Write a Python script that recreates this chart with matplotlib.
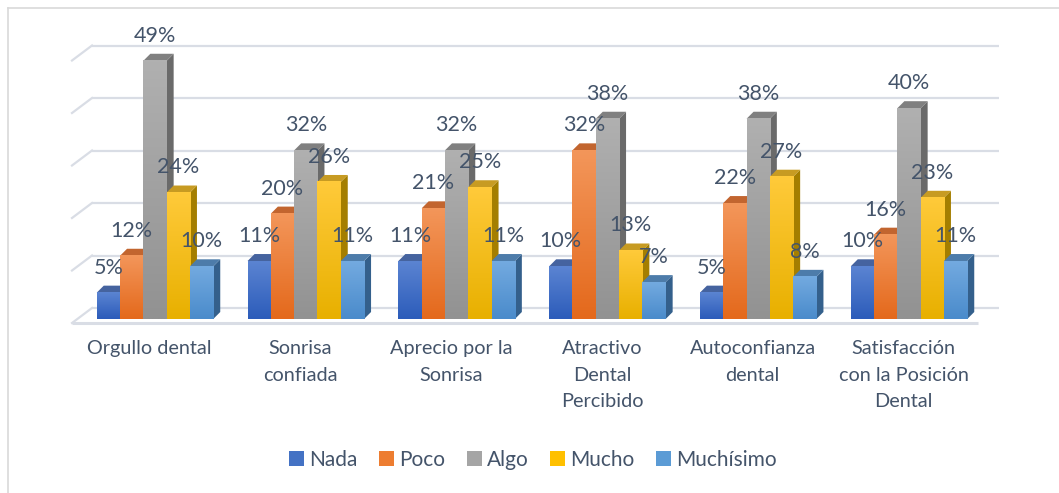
import numpy as np
import matplotlib
matplotlib.use("Agg")
import matplotlib.pyplot as plt
from matplotlib.patches import Polygon, Patch
from matplotlib.lines import Line2D
from matplotlib.colors import to_rgb

# ---------------- data ----------------
categories = ["Orgullo dental", "Sonrisa\nconfiada", "Aprecio por la\nSonrisa",
              "Atractivo\nDental\nPercibido", "Autoconfianza\ndental",
              "Satisfacción\ncon la Posición\nDental"]
series = ["Nada", "Poco", "Algo", "Mucho", "Muchísimo"]
nada = [5, 11, 11, 10, 5, 10]
poco = [12, 20, 21, 32, 22, 16]
algo = [49, 32, 32, 38, 38, 40]
mucho = [24, 26, 25, 13, 27, 23]
muchisimo = [10, 11, 11, 7, 8, 11]
values = [nada, poco, algo, mucho, muchisimo]
gridlines = [0, 10, 20, 30, 40, 50]

# ---------------- styles ----------------
front_top = ["#5B84D2", "#F3965A", "#B0B0B0", "#FFCA3A", "#73AAE0"]
front_bot = ["#2C5CBA", "#E4691C", "#929292", "#E8B000", "#4A8BCB"]
side_col = ["#2B4A86", "#A9561F", "#6A6A6A", "#A47E00", "#34608C"]
topf_col = ["#45639F", "#C2652F", "#808080", "#C79B22", "#4D7CAA"]
legend_col = ["#4472C4", "#ED7D31", "#A5A5A5", "#FFC000", "#5B9BD5"]
text_col = "#44546A"
grid_col = "#D9DDE5"
FONT = "Lato"

W, H = 1059, 493
fig = plt.figure(figsize=(W / 100, H / 100), dpi=100)

# pixel geometry
px_left, px_right = 72, 1000
px_base, px_per_unit = 319, 5.27
px_center0, px_step = 155, 150.8
ax = fig.add_axes([px_left / W, (H - px_base) / H, (px_right - px_left) / W,
                   50 * px_per_unit / H])
xlim = ((px_left - px_center0) / px_step, (px_right - px_center0) / px_step)
ylim = (0, 50)
ax.set_xlim(*xlim)
ax.set_ylim(*ylim)
ax.axis("off")

xu = 1.0 / px_step          # data units per pixel in x
yu = 1.0 / px_per_unit      # data units per pixel in y

bar_w = 23.3 * xu
ddx, ddy = 7 * xu, 7 * yu
n = len(series)

# back wall gridlines + side wall diagonals
back_off = (px_base - 308) * yu
gx0, gx1 = (92 - px_center0) / px_step, (999 - px_center0) / px_step
sx = xlim[0]
for g in gridlines:
    yb = g * (5.25 / 5.27) + back_off
    ax.add_line(Line2D([gx0, gx1], [yb, yb], color=grid_col, lw=1.6,
                       zorder=1, clip_on=False, solid_capstyle="butt"))
    ax.add_line(Line2D([sx, gx0], [yb - 15 * yu, yb], color=grid_col, lw=1.6,
                       zorder=1, clip_on=False))
# floor front edge
fy = -(323 - px_base) * yu
ax.add_line(Line2D([sx, (978 - px_center0) / px_step], [fy, fy], color=grid_col,
                   lw=2.2, zorder=1, clip_on=False, solid_capstyle="butt"))

# bars
k = 0
for i in range(len(categories)):
    for j in range(n):
        v = values[j][i]
        x0 = i + (j - n / 2) * bar_w
        x1 = x0 + bar_w
        z = 3 + k * 0.01
        k += 1
        # side face
        ax.add_patch(Polygon([(x1, 0), (x1 + ddx, ddy), (x1 + ddx, v + ddy), (x1, v)],
                             closed=True, fc=side_col[j], ec="none", zorder=z,
                             clip_on=False))
        # top face
        ax.add_patch(Polygon([(x0, v), (x1, v), (x1 + ddx, v + ddy), (x0 + ddx, v + ddy)],
                             closed=True, fc=topf_col[j], ec="none", zorder=z,
                             clip_on=False))
        # front face with vertical gradient
        c_top = np.array(to_rgb(front_top[j]))
        c_bot = np.array(to_rgb(front_bot[j]))
        t = np.linspace(0, 1, 64)[:, None]
        grad = (c_top[None, :] * (1 - t) + c_bot[None, :] * t)[:, None, :]
        ax.imshow(grad, extent=[x0, x1, 0, v], origin="upper", aspect="auto",
                  zorder=z + 0.001, interpolation="bilinear", clip_on=False)
        # data label
        ax.text(x0 + bar_w / 2, v + 4.75, f"{v}%", ha="center", va="center",
                fontsize=15.5, color=text_col, family=FONT, zorder=20)

ax.set_xlim(*xlim)
ax.set_ylim(*ylim)

# category labels
for i, c in enumerate(categories):
    ax.text(i - 5.5 * xu, -(340 - px_base) * yu, c, ha="center", va="top",
            fontsize=14.3, color=text_col, family=FONT, linespacing=1.68,
            clip_on=False)

# legend
handles = [Patch(fc=legend_col[j], ec="none", label=series[j]) for j in range(n)]
leg = fig.legend(handles=handles, loc="center", bbox_to_anchor=(533 / W, 1 - 460 / H),
                 ncol=n, frameon=False, prop={"family": FONT, "size": 15},
                 handlelength=0.7, handleheight=0.7, handletextpad=0.25,
                 columnspacing=1.05, borderpad=0)
for t in leg.get_texts():
    t.set_color(text_col)

# chart border (top and left only visible)
fig.add_artist(Line2D([8 / W, 1], [1 - 8 / H, 1 - 8 / H], color="#D9D9D9", lw=1.2))
fig.add_artist(Line2D([8 / W, 8 / W], [0, 1 - 8 / H], color="#D9D9D9", lw=1.2))

fig.savefig("out.png", dpi=100)
